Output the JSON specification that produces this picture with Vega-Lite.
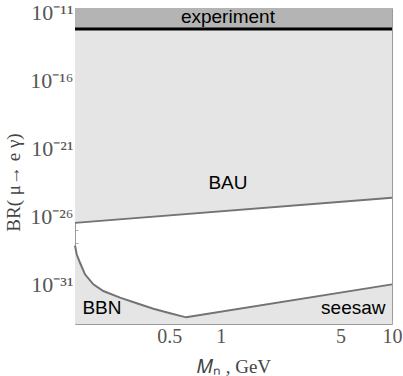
{
  "$schema": "https://vega.github.io/schema/vega-lite/v6.json",
  "width": 317,
  "height": 316,
  "autosize": "none",
  "padding": {"left": 75, "top": 8, "right": 11, "bottom": 52},
  "background": "white",
  "config": {
    "view": {"stroke": "#9a9a9a", "strokeWidth": 1},
    "axis": {"grid": false, "domain": false}
  },
  "datasets": {
    "band": [
      {"M": 0.1406, "br": 5.7e-13, "hi": 2e-11},
      {"M": 10, "br": 5.7e-13, "hi": 2e-11}
    ],
    "bau": [
      {"M": 0.1406, "br": 3.24e-27, "top": 5.7e-13},
      {"M": 10, "br": 2.24e-25, "top": 5.7e-13}
    ],
    "bbn": [
      {"M": 0.1406, "br": 7.1e-29, "floor": 1.2e-34},
      {"M": 0.1438, "br": 1.6e-29, "floor": 1.2e-34},
      {"M": 0.1504, "br": 3.8e-30, "floor": 1.2e-34},
      {"M": 0.1608, "br": 5.4e-31, "floor": 1.2e-34},
      {"M": 0.1799, "br": 9.8e-32, "floor": 1.2e-34},
      {"M": 0.2058, "br": 3.2e-32, "floor": 1.2e-34},
      {"M": 0.2577, "br": 1.05e-32, "floor": 1.2e-34},
      {"M": 0.3228, "br": 4.0e-33, "floor": 1.2e-34},
      {"M": 0.4035, "br": 1.6e-33, "floor": 1.2e-34},
      {"M": 0.5053, "br": 7.4e-34, "floor": 1.2e-34},
      {"M": 0.6267, "br": 3.7e-34, "floor": 1.2e-34},
      {"M": 10, "br": 9.8e-32, "floor": 1.2e-34}
    ],
    "labels": [
      {"M": 1.1, "br": 4.5e-12, "label": "experiment"},
      {"M": 1.1, "br": 3e-24, "label": "BAU"},
      {"M": 0.202, "br": 1.7e-33, "label": "BBN"},
      {"M": 5.94, "br": 1.7e-33, "label": "seesaw"}
    ]
  },
  "encoding": {
    "x": {
      "field": "M",
      "type": "quantitative",
      "scale": {"type": "log", "domain": [0.1406, 10], "nice": false},
      "axis": {
        "title": "𝑀ₙ , GeV",
        "titleFont": "Liberation Serif",
        "titleFontSize": 19,
        "titleFontWeight": "normal",
        "titleColor": "#444444",
        "titlePadding": 11,
        "values": [0.2, 0.3, 0.4, 0.5, 0.6, 0.7, 0.8, 0.9, 1, 2, 3, 4, 5, 6, 7, 8, 9, 10],
        "labelExpr": "datum.value == 0.5 ? '0.5' : datum.value == 1 ? '1' : datum.value == 5 ? '5' : datum.value == 10 ? '10' : ''",
        "labelFont": "Liberation Serif",
        "labelFontSize": 20,
        "labelColor": "#555555",
        "labelPadding": 6,
        "tickSize": -4,
        "tickColor": "#aaaaaa",
        "labelFlush": false,
        "labelOverlap": false
      }
    },
    "y": {
      "field": "br",
      "type": "quantitative",
      "scale": {"type": "log", "domain": [1.2e-34, 2e-11], "nice": false},
      "axis": {
        "title": "BR( μ→ e γ)",
        "titleFont": "Liberation Serif",
        "titleFontSize": 19,
        "titleFontWeight": "normal",
        "titleColor": "#444444",
        "titlePadding": 6,
        "titleY": 174,
        "values": [1e-33, 1e-32, 1e-31, 1e-30, 1e-29, 1e-28, 1e-27, 1e-26, 1e-25, 1e-24, 1e-23, 1e-22, 1e-21, 1e-20, 1e-19, 1e-18, 1e-17, 1e-16, 1e-15, 1e-14, 1e-13, 1e-12, 1e-11],
        "labelExpr": "round(log(datum.value)/LN10) == -11 ? '10⁻¹¹' : round(log(datum.value)/LN10) == -16 ? '10⁻¹⁶' : round(log(datum.value)/LN10) == -21 ? '10⁻²¹' : round(log(datum.value)/LN10) == -26 ? '10⁻²⁶' : round(log(datum.value)/LN10) == -31 ? '10⁻³¹' : ''",
        "labelFont": "Liberation Serif",
        "labelFontSize": 22,
        "labelColor": "#555555",
        "labelPadding": 5,
        "tickSize": -3,
        "tickColor": "#aaaaaa",
        "labelFlush": false,
        "labelOverlap": false
      }
    }
  },
  "layer": [
    {
      "data": {"name": "band"},
      "mark": {"type": "area", "color": "#b4b4b4"},
      "encoding": {"y2": {"field": "hi"}}
    },
    {
      "data": {"name": "bau"},
      "mark": {"type": "area", "color": "#e5e5e5"},
      "encoding": {"y2": {"field": "top"}}
    },
    {
      "data": {"name": "bbn"},
      "mark": {"type": "area", "color": "#e5e5e5"},
      "encoding": {"y2": {"field": "floor"}}
    },
    {
      "data": {"name": "bau"},
      "mark": {"type": "line", "color": "#737373", "strokeWidth": 2},
      "encoding": {}
    },
    {
      "data": {"name": "bbn"},
      "mark": {"type": "line", "color": "#737373", "strokeWidth": 2},
      "encoding": {}
    },
    {
      "data": {"name": "band"},
      "mark": {"type": "line", "color": "#000000", "strokeWidth": 3},
      "encoding": {}
    },
    {
      "data": {"name": "labels"},
      "mark": {"type": "text", "font": "Liberation Sans", "fontSize": 19, "color": "#000000", "align": "center", "baseline": "middle"},
      "encoding": {"text": {"field": "label"}}
    }
  ]
}
